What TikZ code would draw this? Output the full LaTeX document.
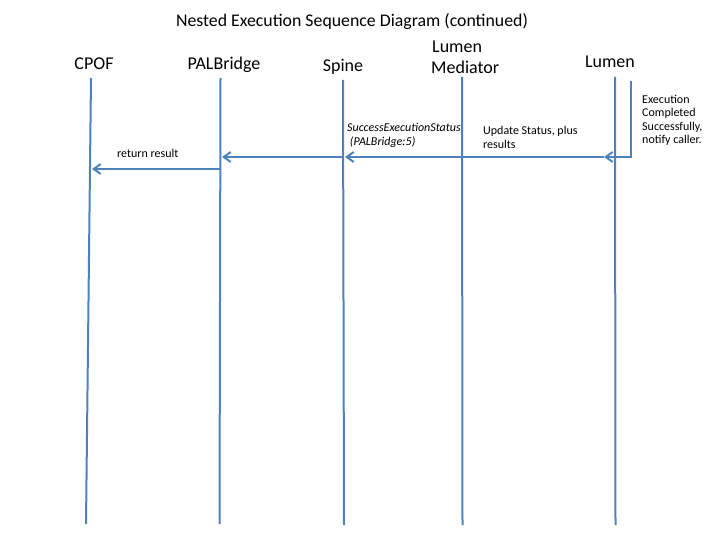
\documentclass[tikz,border=0pt]{standalone}
\usepackage{fontspec}
\setmainfont{Carlito}
\usetikzlibrary{arrows.meta}
\definecolor{lblue}{HTML}{4F81BD}
\begin{document}
\begin{tikzpicture}[x=1pt,y=-1pt,
  life/.style={draw=lblue,line width=2pt},
  msg/.style={draw=lblue,line width=2pt,-{Straight Barb[length=7pt,width=10pt]}},
  head/.style={font=\fontsize{18}{21}\selectfont,inner sep=0pt,anchor=base},
  note/.style={font=\fontsize{12}{13.5}\selectfont,inner sep=0pt,align=left,anchor=base west}]
\useasboundingbox (0,0) rectangle (720,540);
\node[head,font=\fontsize{17.8}{21}\selectfont] (title) at (352,27) {Nested Execution Sequence Diagram (continued)};
\node[head] (hcpof) at (94,70) {CPOF};
\node[head] (hpal) at (224,70) {PALBridge};
\node[head] (hspine) at (343,72) {Spine};
\node[head,anchor=base west] (hmed1) at (432,53) {Lumen};
\node[head,anchor=base west] (hmed2) at (431,74) {Mediator};
\node[head] (hlumen) at (610,68) {Lumen};
% lifelines
\coordinate (cpofT) at (91,78); \coordinate (cpofB) at (86,524);
\coordinate (palT) at (220.5,78); \coordinate (palB) at (219.5,524);
\coordinate (spT) at (343,80); \coordinate (spB) at (344,525);
\coordinate (medT) at (462,77); \coordinate (medB) at (462.5,525);
\coordinate (luT) at (615,77); \coordinate (luB) at (615.5,525);
\draw[life] (cpofT) -- (cpofB);
\draw[life] (palT) -- (palB);
\draw[life] (spT) -- (spB);
\draw[life] (medT) -- (medB);
\draw[life] (luT) -- (luB);
% messages
\coordinate (selfT) at (631,81);
\coordinate (luM) at (604,157);
\coordinate (spM) at (345,157);
\coordinate (spM2) at (343,157);
\coordinate (palM) at (222,157);
\coordinate (palM2) at (220,169);
\coordinate (cpofM) at (92,169);
\draw[msg] (selfT) |- (luM);
\draw[msg] (luM) -- (spM);
\draw[msg] (spM2) -- (palM);
\draw[msg] (palM2) -- (cpofM);
% labels (base anchor = baseline of last line)
\node[note] (n1) at (642,144) {Execution\\Completed\\Successfully,\\notify caller.};
\node[note,font=\fontsize{12}{14.3}\selectfont\itshape] (n2) at (347,146) {SuccessExecutionStatus\\\ (PALBridge:5)};
\node[note] (n3) at (483,148.5) {Update Status, plus\\results};
\node[note] (n4) at (117,157.7) {return result};
\end{tikzpicture}
\end{document}
